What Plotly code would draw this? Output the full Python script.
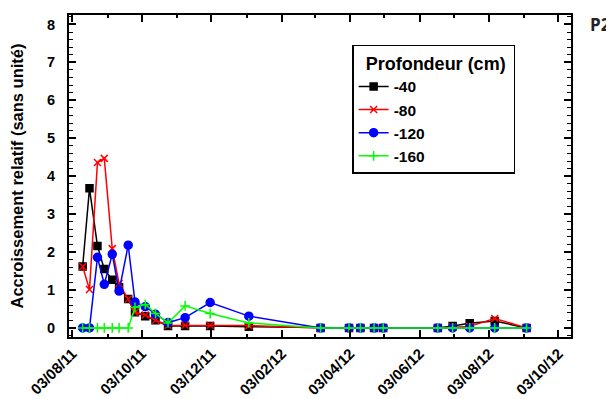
import plotly.graph_objects as go

dates = ["2011-08-12", "2011-08-18", "2011-08-25", "2011-08-31", "2011-09-07", "2011-09-13",
         "2011-09-21", "2011-09-27", "2011-10-06", "2011-10-15", "2011-10-26", "2011-11-10",
         "2011-12-02", "2012-01-05", "2012-03-08", "2012-04-02", "2012-04-12", "2012-04-24",
         "2012-05-02", "2012-06-19", "2012-07-02", "2012-07-17", "2012-08-08", "2012-09-05"]

d40 = [1.62, 3.68, 2.16, 1.55, 1.27, 1.07, 0.76, 0.41, 0.31, 0.20, 0.05, 0.05,
       0.05, 0.03, 0, 0, 0, 0, 0, 0, 0.05, 0.12, 0.18, 0]
d80 = [1.62, 1.01, 4.36, 4.47, 2.09, 1.17, 0.76, 0.41, 0.34, 0.20, 0.07, 0.07,
       0.07, 0.06, 0, 0, 0, 0, 0, 0, 0.02, 0.04, 0.25, 0]
d120 = [0, 0, 1.86, 1.15, 1.94, 0.97, 2.18, 0.68, 0.56, 0.36, 0.14, 0.27,
        0.67, 0.31, 0, 0, 0, 0, 0, 0, 0, 0, 0, 0]
d160 = [0, 0, 0, 0, 0, 0, 0, 0.54, 0.62, 0.38, 0.13, 0.58,
        0.38, 0.13, 0, 0, 0, 0, 0, 0, 0, 0, 0, 0]

series = [
    ("-40", d40, "#000000", "square", 7),
    ("-80", d80, "#ff0000", "x-thin-open", 7),
    ("-120", d120, "#0000ff", "circle", 8),
    ("-160", d160, "#00ff00", "cross-thin-open", 7),
]

FONT = "Liberation Sans, Arial, sans-serif"

fig = go.Figure()
for name, vals, col, sym, sz in series:
    fig.add_trace(go.Scatter(
        x=dates, y=vals, name=name, mode="lines+markers",
        line=dict(color=col, width=1.5),
        marker=dict(symbol=sym, size=sz, color=col, line=dict(color=col, width=1.5)),
    ))

axis_common = dict(
    showline=True, linecolor="black", linewidth=2, mirror="ticks",
    ticks="inside", tickcolor="black", tickwidth=1.5, ticklen=7,
    showgrid=False, zeroline=False, automargin=False,
)

fig.update_xaxes(
    type="date", range=["2011-07-31", "2012-10-14"],
    tick0="2011-08-03", dtick="M2", tickformat="%d/%m/%y", tickangle=-45,
    tickfont=dict(family=FONT, size=15, color="black", weight="bold"),
    minor=dict(ticks="inside", dtick="M1", tick0="2011-08-03", ticklen=3,
               tickcolor="black", tickwidth=1.5, showgrid=False),
    **axis_common,
)
fig.update_yaxes(
    range=[-0.24, 8.25], tick0=0, dtick=1, ticklabelstandoff=9,
    tickfont=dict(family=FONT, size=14.5, color="black", weight="bold"),
    minor=dict(ticks="inside", dtick=0.2, ticklen=4, tickcolor="black",
               tickwidth=1.2, showgrid=False),
    title=dict(text="Accroissement relatif (sans unité)",
               font=dict(family=FONT, size=16.5, color="black", weight="bold"),
               standoff=24),
    **axis_common,
)

# the page body adds an 8 px offset at top/left, so the figure is 8 px smaller
fig.update_layout(
    width=606, height=391,
    margin=dict(l=61, r=43, t=7, b=62),
    paper_bgcolor="white", plot_bgcolor="white",
    font=dict(family=FONT, color="black"),
    legend=dict(
        x=0.564, y=0.907, xanchor="left", yanchor="top",
        bgcolor="white", bordercolor="black", borderwidth=1.5,
        title=dict(text="&nbsp;&nbsp;Profondeur (cm)&nbsp;",
                   font=dict(family=FONT, size=18, weight="bold")),
        font=dict(family=FONT, size=15.5, weight="bold"),
        tracegroupgap=0, itemwidth=30,
    ),
    annotations=[dict(
        text="<b>P2</b>", xref="paper", yref="paper", x=1.034, y=0.969,
        xanchor="left", yanchor="middle", showarrow=False,
        font=dict(family="Open Sans", size=17, color="#222222"),
    )],
)

fig.write_html("out.html")
